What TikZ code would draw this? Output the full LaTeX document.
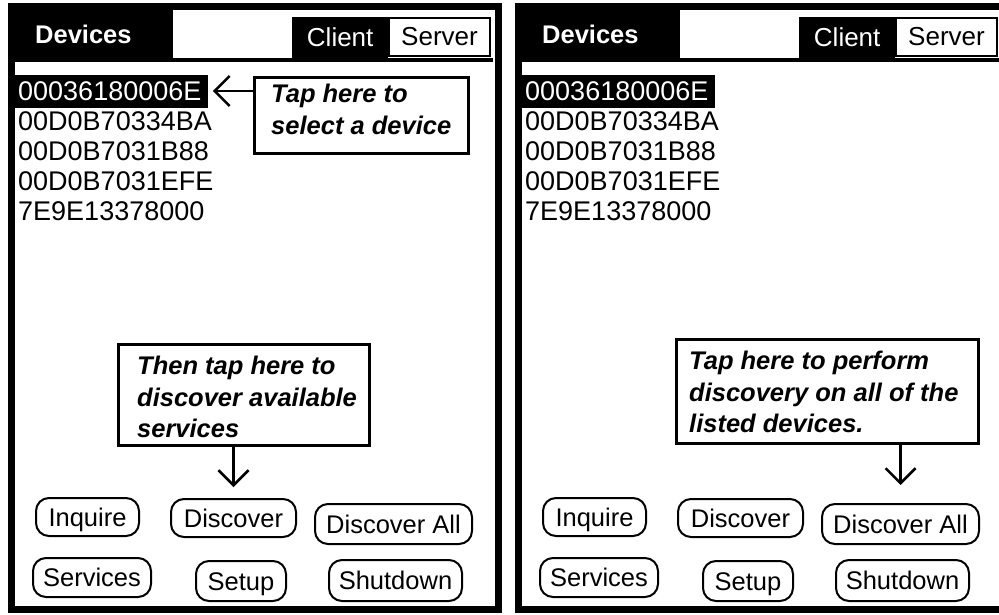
\documentclass[tikz,border=0pt]{standalone}
\usepackage{fontspec}
\setmainfont{Liberation Sans}
\usetikzlibrary{arrows.meta}

\tikzset{
  frame/.style={line width=7pt},
  tabdark/.style={fill=black, text=white, inner sep=0pt},
  tablight/.style={draw, line width=2pt, fill=white, inner sep=0pt},
  devrow/.style={anchor=west, inner sep=0pt, font=\fontsize{27}{30}\selectfont},
  selrow/.style={devrow, fill=black, text=white, minimum height=33pt,
    text width=187pt, align=left, inner xsep=3pt},
  btn/.style={draw, line width=2pt, rounded corners=13pt, inner sep=0pt,
    font=\fontsize{25.5}{30}\selectfont, text height=18.5pt, text depth=0pt},
  callbox/.style={draw, line width=3pt, fill=white, inner sep=0pt},
  calltext/.style={anchor=north west, inner sep=0pt, align=left,
    font=\fontsize{25.5}{31.5}\selectfont\bfseries\itshape},
  pointer/.style={line width=2.5pt, -{Straight Barb[length=15pt,width=30pt]}},
}

% One handheld screen: frame, header tabs, device list and buttons
\newcommand\screenpanel{%
  \draw[frame] (11.5,6.5) rectangle (498.5,609.5);
  \node[tabdark, anchor=north west, minimum width=158pt, minimum height=49pt,
    text width=118pt, inner xsep=20pt, align=left,
    font=\fontsize{25.5}{30}\selectfont\bfseries] (devtab) at (15,10) {Devices};
  \draw[line width=4pt] (15,59.5) -- (493,59.5);
  \node[tabdark, anchor=north west, minimum width=96pt, minimum height=41pt,
    font=\fontsize{26}{30}\selectfont] (client) at (292,17) {Client};
  \node[tablight, anchor=north west, minimum width=101pt, minimum height=38pt,
    font=\fontsize{26}{30}\selectfont] (server) at (388,17) {Server};
  \node[selrow] (dev1) at (15,91) {00036180006E};
  \node[devrow] (dev2) at (18,121) {00D0B70334BA};
  \node[devrow] (dev3) at (18,151) {00D0B7031B88};
  \node[devrow] (dev4) at (18,181) {00D0B7031EFE};
  \node[devrow] (dev5) at (18,211) {7E9E13378000};
  \node[btn, minimum width=103pt, minimum height=38pt] (inq) at (87.5,517) {Inquire};
  \node[btn, minimum width=125pt, minimum height=38pt] (disc) at (233.5,518) {Discover};
  \node[btn, minimum width=157pt, minimum height=40pt] (discall) at (393.5,524) {Discover All};
  \node[btn, minimum width=118pt, minimum height=39pt] (serv) at (92,577.5) {Services};
  \node[btn, minimum width=90pt, minimum height=40pt] (setup) at (241,581) {Setup};
  \node[btn, minimum width=133pt, minimum height=41pt] (shut) at (395.5,580.5) {Shutdown};
}

\begin{document}
\begin{tikzpicture}[x=1pt, y=-1pt]
  \useasboundingbox (0,0) rectangle (999,614);
  \fill[white] (0,0) rectangle (999,614);
  \clip (0,0) rectangle (999,614);

  \begin{scope}[name prefix=L-]
    \screenpanel
  \end{scope}
  \begin{scope}[xshift=507pt, name prefix=R-]
    \screenpanel
  \end{scope}

  % Left screen: select a device, then discover its services
  \node[callbox, minimum width=214pt, minimum height=76pt] (selbox) at (361.5,115.5) {};
  \node[calltext] (seltext) at (271,84) {Tap here to\\select a device};
  \draw[pointer, shorten >=4.5pt] (selbox.west |- L-dev1.east) -- (L-dev1.east);

  \node[callbox, minimum width=251pt, minimum height=101pt] (discbox) at (244,395) {};
  \node[calltext] (disctext) at (137,356) {Then tap here to\\discover available\\services};
  \draw[pointer, shorten >=11pt] (L-disc.north |- discbox.south) -- (L-disc.north);

  % Right screen: discovery on every listed device
  \node[callbox, minimum width=302pt, minimum height=104pt] (allbox) at (827.5,391.5) {};
  \node[calltext] (alltext) at (689,351) {Tap here to perform\\discovery on all of the\\listed devices.};
  \draw[pointer, shorten >=18pt] (R-discall.north |- allbox.south) -- (R-discall.north);
\end{tikzpicture}
\end{document}
